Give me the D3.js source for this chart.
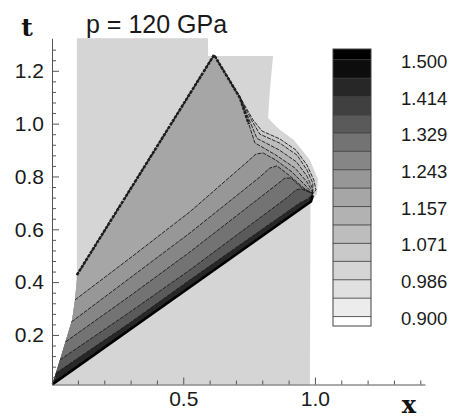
<!DOCTYPE html>
<html lang="en">
<head>
<meta charset="UTF-8">
<title>p = 120 GPa</title>
<script src="https://cdn.jsdelivr.net/npm/d3@7"></script>
<style>
  body { margin: 0; background: #fff; }
  svg { display: block; font-family: "Liberation Sans", Arial, sans-serif; }
  .axis text { font-size: 21px; fill: #1a1a1a; font-family: "Liberation Sans", Arial, sans-serif; }
  .axis line, .axis path { stroke: #555; }
  .contour { fill: none; stroke: #1a1a1a; stroke-width: 0.9; stroke-dasharray: 4,1.2; }
</style>
</head>
<body>
<svg id="chart" width="468" height="419"></svg>
<script>
// contour levels (legend)
const levels = [0.900, 0.943, 0.986, 1.029, 1.071, 1.114, 1.157, 1.200, 1.243, 1.286, 1.329, 1.371, 1.414, 1.457, 1.500];
const legendLabels = ["1.500", "1.414", "1.329", "1.243", "1.157", "1.071", "0.986", "0.900"];
const xMajor = [0.5, 1.0];
const yMajor = [0.2, 0.4, 0.6, 0.8, 1.0, 1.2];

// computed domain outline [x, t]
const domainOutline = [[0.096, 1.323], [0.594, 1.323], [0.594, 1.256], [0.841, 1.256], [0.829, 1.127], [0.822, 1.021],
  [0.863, 0.980], [0.920, 0.938], [0.981, 0.862], [1.011, 0.790], [1.008, 0.734], [0.983, 0.700], [0.981, 0.0125], [0.003, 0.0125]];
const domainValue = 1.00;

// left edge of the wave fan, from the origin upwards
const leftEdge = [[0.003, 0.013], [0.032, 0.106], [0.055, 0.182], [0.078, 0.257], [0.089, 0.333], [0.096, 0.408]];
// lower (shock) edge, origin to nose
const shock = [[0.003, 0.013], [0.985, 0.705], [0.992, 0.728]];

// contour lines, each from the left edge to the nose
const fanOuter = [[0.096, 0.427], [0.617, 1.260], [0.715, 1.101], [0.765, 1.014], [0.799, 0.972], [0.867, 0.942], [0.928, 0.900], [0.970, 0.843], [0.996, 0.786], [1.004, 0.749], [0.992, 0.735]];
const fanMid1 = [[0.096, 0.427], [0.617, 1.260], [0.715, 1.100], [0.761, 1.010], [0.791, 0.960], [0.867, 0.926], [0.932, 0.881], [0.970, 0.824], [0.992, 0.775], [0.992, 0.735]];
const fanMid2 = [[0.096, 0.427], [0.617, 1.260], [0.715, 1.099], [0.755, 1.004], [0.780, 0.944], [0.865, 0.900], [0.930, 0.855], [0.970, 0.801], [0.989, 0.758], [0.992, 0.735]];
const triangleEdge = [[0.096, 0.427], [0.617, 1.260], [0.715, 1.098], [0.749, 0.998], [0.772, 0.927], [0.852, 0.881], [0.924, 0.832], [0.970, 0.779], [0.989, 0.745], [0.992, 0.735]];
const band1 = [[0.089, 0.333], [0.298, 0.491], [0.525, 0.666], [0.746, 0.858], [0.776, 0.885], [0.803, 0.889], [0.852, 0.862], [0.913, 0.817], [0.962, 0.768], [0.992, 0.735]];
const band2 = [[0.075, 0.249], [0.298, 0.416], [0.525, 0.586], [0.791, 0.798], [0.829, 0.832], [0.856, 0.840], [0.905, 0.802], [0.958, 0.756], [0.992, 0.735]];
const band3 = [[0.053, 0.174], [0.298, 0.348], [0.525, 0.514], [0.848, 0.764], [0.886, 0.794], [0.909, 0.794], [0.951, 0.756], [0.992, 0.735]];
const band4 = [[0.032, 0.106], [0.298, 0.287], [0.525, 0.446], [0.897, 0.722], [0.928, 0.749], [0.947, 0.753], [0.992, 0.735]];
const band5 = [[0.016, 0.055], [0.298, 0.246], [0.525, 0.408], [0.943, 0.700], [0.973, 0.715], [0.992, 0.735]];

// value just below each contour line
const regions = [
  { line: fanOuter, value: 1.04 },
  { line: fanMid1, value: 1.08 },
  { line: fanMid2, value: 1.13 },
  { line: triangleEdge, value: 1.18 },
  { line: band1, value: 1.22 },
  { line: band2, value: 1.26 },
  { line: band3, value: 1.31 },
  { line: band4, value: 1.35 },
  { line: band5, value: 1.44 }
];

const svg = d3.select("#chart");
const x = d3.scaleLinear().domain([0, 1.418]).range([51.6, 425]);
const y = d3.scaleLinear().domain([0.0125, 1.323]).range([384.5, 38.3]);

const gray = d3.scaleLinear().domain([0.9, 1.2, 1.3, 1.5])
  .range(["#f2f2f2", "#a0a0a0", "#787878", "#000000"]).clamp(true);
function bandColor(v) {
  if (v < levels[0]) return "#fff";
  if (v > levels[levels.length - 1]) return "#000";
  const i = Math.max(1, d3.bisectRight(levels, v));
  return gray((levels[i - 1] + levels[i]) / 2);
}

const line = d3.line().x(d => x(d[0])).y(d => y(d[1]));
const plot = svg.append("g");

// background domain
plot.append("path")
  .attr("d", line([...domainOutline, ...leftEdge]) + "Z")
  .attr("fill", bandColor(domainValue));

// nested regions painted light to dark
regions.forEach(r => {
  const start = r.line[0][1];
  const pts = [...leftEdge.filter(p => p[1] < start), ...r.line, ...shock.slice().reverse()];
  plot.append("path")
    .attr("d", line(pts) + "Z")
    .attr("fill", bandColor(r.value));
});

// contour lines
regions.forEach(r => {
  plot.append("path").attr("class", "contour").attr("d", line(r.line));
});

// bunched lines along the triangle edges
plot.append("path")
  .attr("d", line(triangleEdge.slice(0, 4)))
  .attr("fill", "none").attr("stroke", "#1e1e1e")
  .attr("stroke-width", 2.6).attr("stroke-dasharray", "3,1.2");

// shock edge
plot.append("path")
  .attr("d", line(shock))
  .attr("fill", "none").attr("stroke", "#000").attr("stroke-width", 2.6);

// axes
const yMinor = d3.range(0.04, 1.3, 0.04).filter(v => !yMajor.some(m => Math.abs(m - v) < 1e-6));
const xMinor = d3.range(0.1, 1.45, 0.1).filter(v => !xMajor.some(m => Math.abs(m - v) < 1e-6));

svg.append("g").attr("class", "axis").attr("transform", "translate(52,0)")
  .call(d3.axisLeft(y).tickValues(yMinor).tickSize(-4).tickSizeOuter(0).tickFormat(""));
svg.append("g").attr("class", "axis").attr("transform", "translate(52,0)")
  .call(d3.axisLeft(y).tickValues(yMajor).tickSize(-7).tickSizeOuter(0).tickPadding(8).tickFormat(d3.format(".1f")))
  .call(g => g.select(".domain").remove());

svg.append("g").attr("class", "axis").attr("transform", "translate(0,384.5)")
  .call(d3.axisBottom(x).tickValues(xMinor).tickSize(-4).tickSizeOuter(0).tickFormat(""));
svg.append("g").attr("class", "axis").attr("transform", "translate(0,384.5)")
  .call(d3.axisBottom(x).tickValues(xMajor).tickSize(-7).tickSizeOuter(0).tickPadding(7).tickFormat(d3.format(".1f")))
  .call(g => g.select(".domain").remove());
svg.selectAll(".axis").attr("font-family", null).attr("font-size", null);

// titles
svg.append("text").attr("x", 86).attr("y", 33)
  .attr("font-size", 25).attr("fill", "#1a1a1a").text("p = 120 GPa");
svg.append("text").attr("x", 27).attr("y", 36).attr("text-anchor", "middle")
  .attr("font-family", "'DejaVu Serif', serif").attr("font-weight", "bold").attr("font-size", 25)
  .attr("fill", "#111").text("t");
svg.append("text").attr("x", 409).attr("y", 413).attr("text-anchor", "middle")
  .attr("font-family", "'DejaVu Serif', serif").attr("font-weight", "bold").attr("font-size", 24)
  .attr("fill", "#111").text("x");

// legend
const lg = d3.scaleLinear().domain([0.878, 1.525]).range([326, 49]);
const legend = svg.append("g").attr("transform", "translate(333,0)");
const bands = [[0.878, levels[0]]].concat(d3.pairs(levels)).concat([[levels[levels.length - 1], 1.525]]);
legend.selectAll("rect.band").data(bands).join("rect")
  .attr("class", "band")
  .attr("x", 0).attr("width", 38)
  .attr("y", d => lg(d[1])).attr("height", d => lg(d[0]) - lg(d[1]))
  .attr("fill", d => bandColor((d[0] + d[1]) / 2));
legend.selectAll("line.lev").data(levels).join("line")
  .attr("class", "lev")
  .attr("x1", 0).attr("x2", 38)
  .attr("y1", d => lg(d)).attr("y2", d => lg(d))
  .attr("stroke", "#333").attr("stroke-width", 0.8);
legend.append("rect")
  .attr("x", 0).attr("y", lg(1.525)).attr("width", 38).attr("height", lg(0.878) - lg(1.525))
  .attr("fill", "none").attr("stroke", "#444").attr("stroke-width", 1);
legend.selectAll("text").data(legendLabels).join("text")
  .attr("x", 68).attr("y", d => lg(+d) + 1.5)
  .attr("dominant-baseline", "central")
  .attr("font-size", 18.5).attr("fill", "#1a1a1a")
  .text(d => d);
</script>
</body>
</html>
